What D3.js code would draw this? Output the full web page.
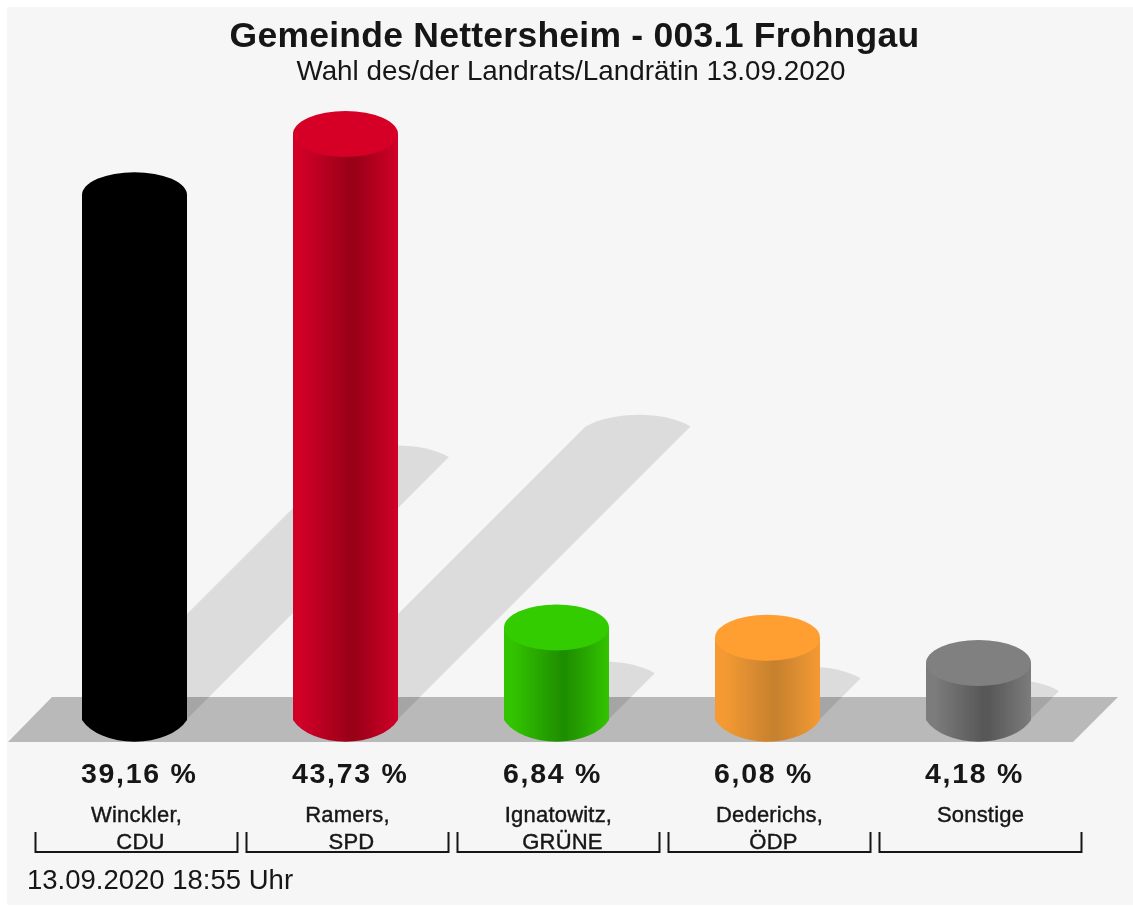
<!DOCTYPE html>
<html>
<head>
<meta charset="utf-8">
<script src="https://cdnjs.cloudflare.com/ajax/libs/d3/7.8.5/d3.min.js"></script>
<style>
  html, body { margin: 0; padding: 0; background: #fff; }
  text { font-family: "Liberation Sans", Arial, sans-serif; fill: #151515; text-anchor: middle; }
</style>
</head>
<body>
<div id="chart"></div>
<script>
const names = [ "Winckler", "Ramers", "Ignatowitz", "Dederichs", "Sonstige" ];
const parties = [ "CDU", "SPD", "GRÜNE", "ÖDP", "" ];
const shares = [ 39.16, 43.73, 6.84, 6.08, 4.18 ];
const shareLabels = [ "39,16 %", "43,73 %", "6,84 %", "6,08 %", "4,18 %" ];
const topColors = [ "#000000", "#d60026", "#33cc00", "#ff9f33", "#808080" ];
const edgeColors = [ "#000000", "#d00028", "#33c400", "#f59a33", "#7c7c7c" ];
const midColors = [ "#000000", "#9a0018", "#1f8f00", "#c8822e", "#585858" ];

const width = 1133, height = 906;
const rx = 52.5, ry = 23;
const baseY = 742;

const svg = d3.select( "#chart" ).append( "svg" )
    .attr( "width", width )
    .attr( "height", height )
    .style( "display", "block" );

svg.append( "rect" )
    .attr( "x", 7 ).attr( "y", 7 )
    .attr( "width", width - 7 ).attr( "height", 898 )
    .attr( "fill", "#f6f6f6" );

const x = d3.scalePoint()
    .domain( d3.range( shares.length ) )
    .range( [ 134.5, 978.5 ] );

// y gives the top of the cylinder's upper ellipse
const y = d3.scaleLinear()
    .domain( [ 0, 43.73 ] )
    .range( [ baseY - 2 * ry, 111 ] );

const defs = svg.append( "defs" );

// the source picture is a soft, upscaled bitmap
defs.append( "filter" ).attr( "id", "soft" )
    .append( "feGaussianBlur" ).attr( "stdDeviation", 0.6 );

shares.forEach( ( d, i ) =>
{
    const grad = defs.append( "linearGradient" ).attr( "id", "side" + i );
    grad.append( "stop" ).attr( "offset", "0.08" ).attr( "stop-color", edgeColors[ i ] );
    grad.append( "stop" ).attr( "offset", "0.54" ).attr( "stop-color", midColors[ i ] );
    grad.append( "stop" ).attr( "offset", "0.6" ).attr( "stop-color", midColors[ i ] );
    grad.append( "stop" ).attr( "offset", "1" ).attr( "stop-color", edgeColors[ i ] );
});

const chart = svg.append( "g" ).attr( "filter", "url(#soft)" );

// floor
chart.append( "path" )
    .attr( "d", d3.line()( [ [ 52, 697 ], [ 1118, 697 ], [ 1073, 742 ], [ 8, 742 ] ] ) + "Z" )
    .attr( "fill", "#b9b9b9" );

// shadows are the cylinder bodies sheared by 45 degrees at half height
const shadowPath = i =>
{
    const h = ( y( 0 ) - y( shares[ i ] ) ) / 2;
    const left = x( i ) - rx, right = x( i ) + rx;
    const foot = baseY - ry;
    const p = d3.path();
    p.moveTo( left, foot );
    p.lineTo( left + h, foot - h );
    p.bezierCurveTo( left + h + 28, foot - h - 15, right + h - 28, foot - h - 16, right + h, foot - h );
    p.lineTo( right, foot );
    p.closePath();
    return p.toString();
};

chart.append( "g" ).selectAll( "path" )
    .data( d3.range( shares.length ) )
    .join( "path" )
    .attr( "d", shadowPath )
    .attr( "fill", "#000" )
    .attr( "fill-opacity", 0.105 );

const bars = chart.append( "g" ).selectAll( "g" )
    .data( d3.range( shares.length ) )
    .join( "g" );

// the lower rim is flatter than the top ellipse, so it meets the sides at a slight corner
bars.append( "path" )
    .attr( "d", i =>
    {
        const cy = y( shares[ i ] ) + ry;
        const l = x( i ) - rx, r = x( i ) + rx;
        return `M${ l },${ cy }L${ l },${ baseY - 22 }A${ rx * 1.08 },${ 35 } 0 0 0 ${ r },${ baseY - 22 }L${ r },${ cy }Z`;
    })
    .attr( "fill", i => `url(#side${ i })` );

bars.append( "ellipse" )
    .attr( "cx", i => x( i ) )
    .attr( "cy", i => y( shares[ i ] ) + ry )
    .attr( "rx", rx )
    .attr( "ry", ry )
    .attr( "fill", i => topColors[ i ] );

chart.append( "text" )
    .attr( "x", 574.5 ).attr( "y", 47 )
    .style( "font-size", "35.5px" )
    .style( "font-weight", "bold" )
    .style( "letter-spacing", "0.25px" )
    .text( "Gemeinde Nettersheim - 003.1 Frohngau" );

chart.append( "text" )
    .attr( "x", 571 ).attr( "y", 80 )
    .style( "font-size", "27.8px" )
    .text( "Wahl des/der Landrats/Landrätin 13.09.2020" );

const labels = chart.append( "g" ).selectAll( "g" )
    .data( d3.range( shares.length ) )
    .join( "g" );

labels.append( "text" )
    .attr( "x", i => x( i ) - rx - 1 )
    .attr( "y", 783 )
    .style( "text-anchor", "start" )
    .style( "font-size", "28.5px" )
    .style( "font-weight", "bold" )
    .style( "letter-spacing", "1.7px" )
    .text( i => shareLabels[ i ] );

labels.append( "text" )
    .attr( "x", i => x( i ) + 2 )
    .attr( "y", 822 )
    .style( "font-size", "22px" )
    .style( "letter-spacing", "0.2px" )
    .style( "stroke", "#151515" )
    .style( "stroke-width", 0.4 )
    .text( i => names[ i ] + ( parties[ i ] ? "," : "" ) );

labels.append( "text" )
    .attr( "x", i => x( i ) + 6 )
    .attr( "y", 849 )
    .style( "font-size", "22px" )
    .style( "letter-spacing", "0.2px" )
    .style( "stroke", "#151515" )
    .style( "stroke-width", 0.4 )
    .text( i => parties[ i ] );

labels.append( "path" )
    .attr( "d", i => `M${ x( i ) - 99 },832V852H${ x( i ) + 103 }V832` )
    .attr( "fill", "none" )
    .attr( "stroke", "#151515" )
    .attr( "stroke-width", 2 );

chart.append( "text" )
    .attr( "x", 27 ).attr( "y", 889 )
    .style( "text-anchor", "start" )
    .style( "font-size", "27.5px" )
    .text( "13.09.2020 18:55 Uhr" );
</script>
</body>
</html>
